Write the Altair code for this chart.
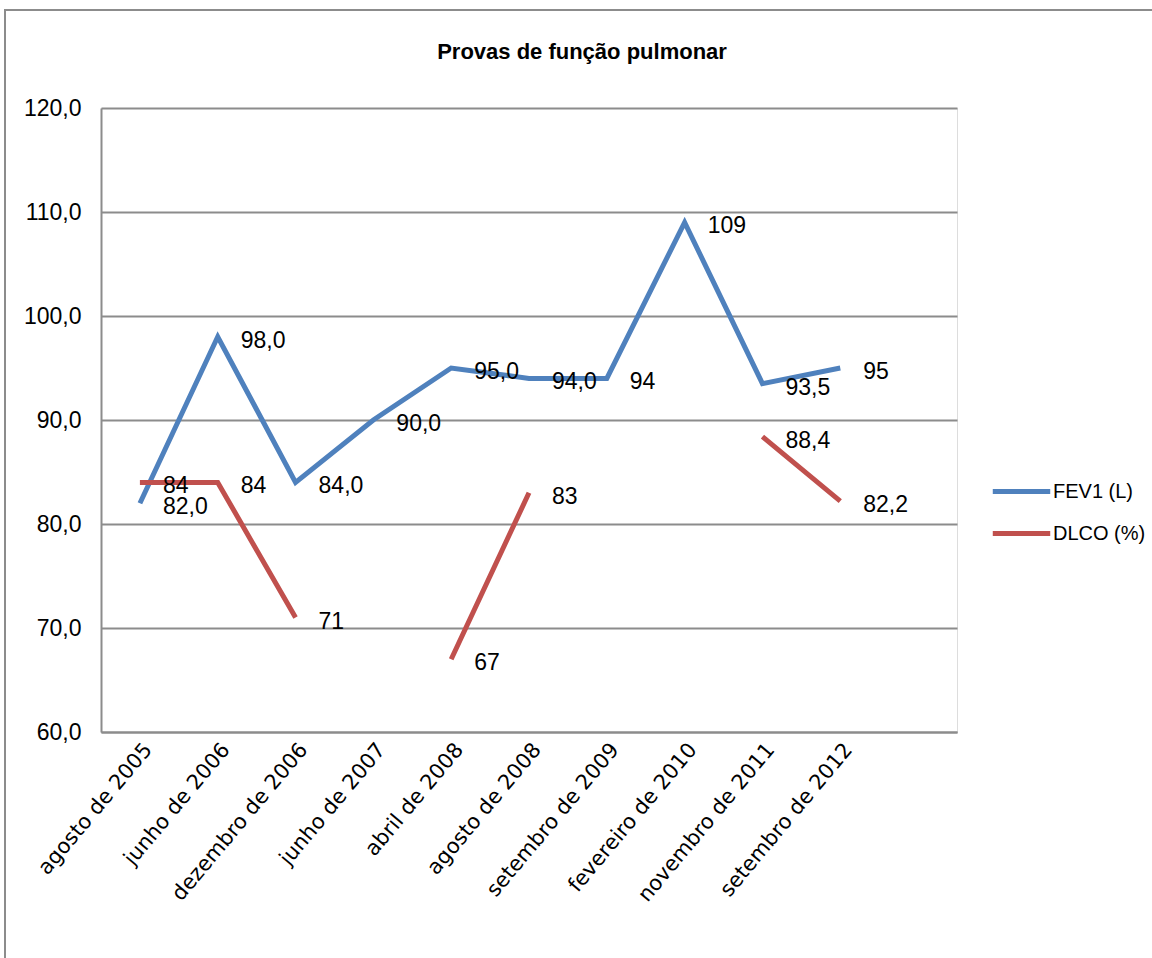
import altair as alt
import pandas as pd

title_text = "Provas de função pulmonar"
categories = ["agosto de 2005", "junho de 2006", "dezembro de 2006", "junho de 2007",
              "abril de 2008", "agosto de 2008", "setembro de 2009", "fevereiro de 2010",
              "novembro de 2011", "setembro de 2012"]
fev1 = [82.0, 98.0, 84.0, 90.0, 95.0, 94.0, 94.0, 109.0, 93.5, 95.0]
fev1_labels = ["82,0", "98,0", "84,0", "90,0", "95,0", "94,0", "94", "109", "93,5", "95"]
dlco = [84.0, 84.0, 71.0, None, 67.0, 83.0, None, None, 88.4, 82.2]
dlco_labels = ["84", "84", "71", None, "67", "83", None, None, "88,4", "82,2"]
series_names = ["FEV1 (L)", "DLCO (%)"]
series_colors = ["#4F81BD", "#C0504D"]
y_ticks = [60, 70, 80, 90, 100, 110, 120]

rows = []
for name, vals, labs in [(series_names[0], fev1, fev1_labels), (series_names[1], dlco, dlco_labels)]:
    for c, v, l in zip(categories, vals, labs):
        rows.append({"cat": c, "series": name, "value": v, "label": l})
df = pd.DataFrame(rows)

FONT = "Liberation Sans, Arial, sans-serif"
XFONT = "DejaVu Sans"
GRAY = "#8C8C8C"

x_enc = alt.X("cat:N", sort=categories,
              scale=alt.Scale(type="point", domain=categories + [" "], padding=0.5),
              axis=alt.Axis(title=None, labelAngle=-50, labelAlign="right", labelBaseline="middle",
                            labelFontSize=21, labelFont=XFONT, labelColor="black", labelLimit=400,
                            ticks=False, domainColor=GRAY, domainWidth=2, labelPadding=14,
                            labelOffset=8, grid=False))
y_enc = alt.Y("value:Q", scale=alt.Scale(domain=[60, 120], nice=False, zero=False),
              axis=alt.Axis(title=None, values=y_ticks,
                            labelExpr="replace(format(datum.value, '.1f'), '.', ',')",
                            labelFontSize=23, labelFont=FONT, labelColor="black",
                            ticks=False, domainColor=GRAY, domainWidth=2, labelPadding=20,
                            gridColor=GRAY, gridWidth=2, gridOpacity=1))

base = alt.Chart(df)

lines = base.mark_line(strokeWidth=5, invalid="break-paths-show-domains").encode(
    x=x_enc, y=y_enc,
    color=alt.Color("series:N", scale=alt.Scale(domain=series_names, range=series_colors),
                    legend=alt.Legend(title=None, orient="none", legendX=889, legendY=352,
                                      symbolType="stroke", symbolSize=3300, symbolStrokeWidth=5,
                                      labelFontSize=20, labelFont=FONT, labelColor="black",
                                      rowPadding=0, labelOffset=0)),
    detail="series:N",
)

texts = base.transform_filter("datum.label != null").mark_text(
    align="left", baseline="middle", dx=23, dy=4, fontSize=23, font=FONT, color="black"
).encode(x=alt.X("cat:N", sort=categories), y=alt.Y("value:Q"), text="label:N")

single = alt.Chart(pd.DataFrame({"t": [title_text]}))

frame = single.mark_rect(
    fill=None, stroke=GRAY, strokeWidth=2
).encode(x=alt.value(-96), x2=alt.value(1060), y=alt.value(-98), y2=alt.value(860))

title = single.mark_text(
    fontSize=22, font=FONT, fontWeight="bold", color="black", align="center", baseline="middle"
).encode(x=alt.value(481), y=alt.value(-56), text="t:N")

chart = alt.layer(frame, title, lines, texts).properties(
    width=856, height=624,
    autosize=alt.AutoSizeParams(type="none"),
    padding={"left": 101, "top": 108, "right": 195, "bottom": 226},
).configure_view(stroke=None).configure(background="white")

chart.save("out.html", embed_options={"renderer": "svg", "actions": False})
